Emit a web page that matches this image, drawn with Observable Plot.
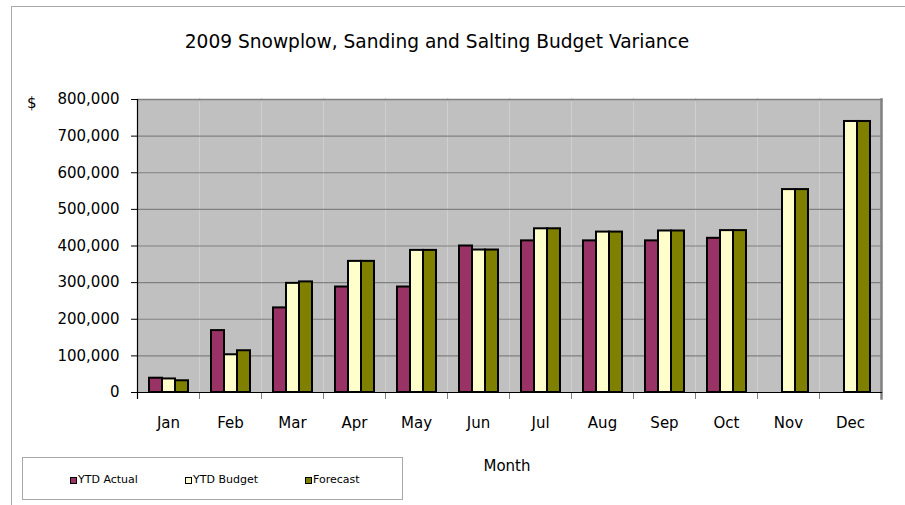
<!DOCTYPE html>
<html>
<head>
<meta charset="utf-8">
<script src="https://cdn.jsdelivr.net/npm/d3@7"></script>
<script src="https://cdn.jsdelivr.net/npm/@observablehq/plot@0.6"></script>
<style>
  body { margin: 0; background: #fff; font-family: "DejaVu Sans", sans-serif; color: #000; }
  #wrap { position: relative; width: 905px; height: 505px; overflow: hidden; }
  #chart { position: absolute; left: 0; top: 0; }
  #border { position: absolute; left: 11px; top: 6px; width: 900px; height: 510px; border-top: 1px solid #a8a8a8; border-left: 1px solid #a8a8a8; }
  #title { position: absolute; top: 31px; left: 0; width: 874px; text-align: center; font-size: 18.6px; white-space: nowrap; }
  #dollar { position: absolute; left: 27px; top: 94px; font-size: 15px; }
  #xlabel { position: absolute; left: 407px; width: 200px; top: 457px; text-align: center; font-size: 15px; }
  #legend { position: absolute; left: 22px; top: 457px; width: 379px; height: 41px; border: 1px solid #a8a8a8; }
  .item { position: absolute; top: 15px; font-size: 11px; line-height: 13px; white-space: nowrap; }
  .sw { display: inline-block; width: 5px; height: 5px; border: 1.5px solid #000; vertical-align: -1px; margin-right: 1px; }
</style>
</head>
<body>
<div id="wrap">
  <div id="border"></div>
  <div id="chart"></div>
  <div id="title"></div>
  <div id="dollar">$</div>
  <div id="xlabel"></div>
  <div id="legend"></div>
</div>
<script>
const titleText = "2009 Snowplow, Sanding and Salting Budget Variance";
const xLabel = "Month";
const months = ["Jan", "Feb", "Mar", "Apr", "May", "Jun", "Jul", "Aug", "Sep", "Oct", "Nov", "Dec"];
const series = ["YTD Actual", "YTD Budget", "Forecast"];
const ytdActual = [39000, 169000, 231000, 288000, 288000, 400000, 414000, 414000, 414000, 421000, null, null];
const ytdBudget = [37000, 103000, 298000, 358000, 388000, 389000, 447000, 438000, 441000, 442000, 554000, 740000];
const forecast  = [32000, 114000, 302000, 358000, 388000, 389000, 447000, 438000, 441000, 442000, 554000, 740000];
const yTicks = [0, 100000, 200000, 300000, 400000, 500000, 600000, 700000, 800000];
const colors = ["#993366", "#FFFFCC", "#808000"];
const legendX = [47, 162, 282];

const seriesValues = [ytdActual, ytdBudget, forecast];
const data = [];
months.forEach((m, i) => {
  series.forEach((s, j) => {
    const v = seriesValues[j][i];
    if (v != null) data.push({month: m, series: s, value: v});
  });
});

document.getElementById("title").textContent = titleText;
document.getElementById("xlabel").textContent = xLabel;
const legend = document.getElementById("legend");
series.forEach((s, j) => {
  const it = document.createElement("div");
  it.className = "item";
  it.style.left = legendX[j] + "px";
  const sw = document.createElement("span");
  sw.className = "sw";
  sw.style.background = colors[j];
  it.appendChild(sw);
  it.appendChild(document.createTextNode(s));
  legend.appendChild(it);
});

const chart = Plot.plot({
  width: 905,
  height: 505,
  marginTop: 99,
  marginRight: 22,
  marginBottom: 113,
  marginLeft: 135,
  style: {background: "transparent", fontFamily: "DejaVu Sans, sans-serif", fontSize: "15px", color: "#000", overflow: "visible"},
  fx: {domain: months, padding: 0},
  x: {domain: series, paddingInner: 0, paddingOuter: 0.725, axis: null},
  y: {domain: [0, 800000]},
  color: {domain: series, range: colors},
  marks: [
    Plot.frame({fill: "#c0c0c0", stroke: null}),
    Plot.gridY(yTicks, {stroke: "#808080", strokeOpacity: 1, strokeWidth: 1.2}),
    Plot.frame({anchor: "top", stroke: "#808080", strokeWidth: 1.5}),
    Plot.frame({anchor: "left", stroke: "#808080", insetTop: 293, insetBottom: -6}),
    Plot.barY(data, {fx: "month", x: "series", y: "value", fill: "series", stroke: "#000", strokeWidth: 2}),
    Plot.frame({facet: "super", anchor: "right", stroke: "#808080", strokeWidth: 2.5, insetBottom: -6}),
    Plot.frame({facet: "super", anchor: "left", stroke: "#000", strokeWidth: 1.2, insetBottom: -6}),
    Plot.frame({anchor: "bottom", stroke: "#000", strokeWidth: 1.2}),
    Plot.axisY({ticks: yTicks, tickFormat: d3.format(","), tickSize: 6, tickPadding: 12, fontSize: 15, label: null}),
    Plot.axisFx({anchor: "bottom", tickSize: 0, tickPadding: 25, fontSize: 15, label: null})
  ]
});
document.getElementById("chart").appendChild(chart);
</script>
</body>
</html>
